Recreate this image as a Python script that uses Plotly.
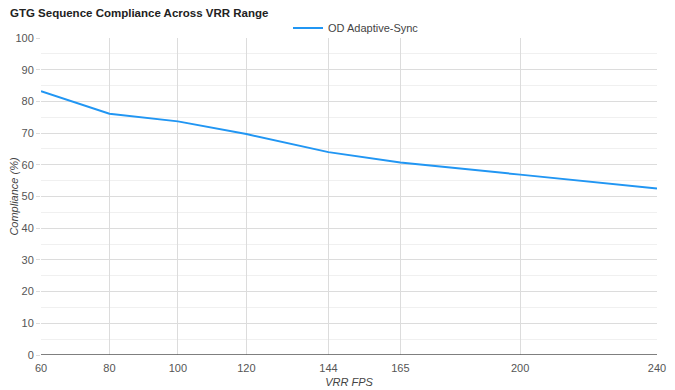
import plotly.graph_objects as go

fps = [60, 80, 100, 120, 144, 165, 200, 240]
compliance = [83.2, 76.1, 73.7, 69.7, 64.0, 60.7, 56.9, 52.5]
series_name = "OD Adaptive-Sync"
x_ticks = [60, 80, 100, 120, 144, 165, 200, 240]
y_ticks = list(range(0, 101, 10))

# The page places the figure with an 8px body margin, so the figure is sized
# to fill the rest of the 675x390 window.
W, H = 667, 382

fig = go.Figure()
fig.add_trace(go.Scatter(
    x=fps, y=compliance, mode="lines", name=series_name,
    line=dict(color="#2196F3", width=2),
))

font_family = "Liberation Sans, Arial, sans-serif"
fig.update_layout(
    width=W, height=H,
    margin=dict(l=33, r=18, t=30, b=35, autoexpand=False),
    paper_bgcolor="white", plot_bgcolor="white",
    font=dict(family=font_family, size=11, color="#444"),
    title=dict(text="<b>GTG Sequence Compliance Across VRR Range</b>",
               x=2 / W, xanchor="left", xref="container",
               y=1 - 5 / H, yanchor="middle", yref="container",
               font=dict(size=11.5, color="#222", family=font_family)),
    showlegend=True,
    legend=dict(orientation="h", x=348 / W, xanchor="center", xref="container",
                y=1 - 20 / H, yanchor="middle", yref="container",
                font=dict(size=11, color="#444"), bgcolor="rgba(0,0,0,0)"),
    xaxis=dict(
        range=[60, 240], tickmode="array", tickvals=x_ticks,
        ticktext=[str(v) for v in x_ticks], automargin=False,
        showgrid=True, gridcolor="#dcdcdc", gridwidth=1,
        zeroline=False, showline=False, ticks="", ticklabelstandoff=5,
        title=dict(text="<i>VRR FPS</i>", font=dict(size=11, color="#444"), standoff=5),
        tickfont=dict(size=11, color="#555"),
    ),
    yaxis=dict(
        range=[0, 100], tickmode="array", tickvals=y_ticks, automargin=False,
        showgrid=True, gridcolor="#dcdcdc", gridwidth=1,
        minor=dict(dtick=5, showgrid=True, gridcolor="#f0f0f0", gridwidth=1),
        zeroline=False, showline=False,
        ticks="outside", ticklen=4, tickcolor="#dcdcdc", tickwidth=1,
        title=dict(text="<i>Compliance (%)</i>", font=dict(size=11, color="#444"), standoff=0),
        tickfont=dict(size=11, color="#555"),
    ),
)
fig.add_shape(type="line", xref="paper", yref="y", x0=0, x1=1, y0=0, y1=0,
              line=dict(color="#555", width=1.5))

fig.write_html("out.html")
